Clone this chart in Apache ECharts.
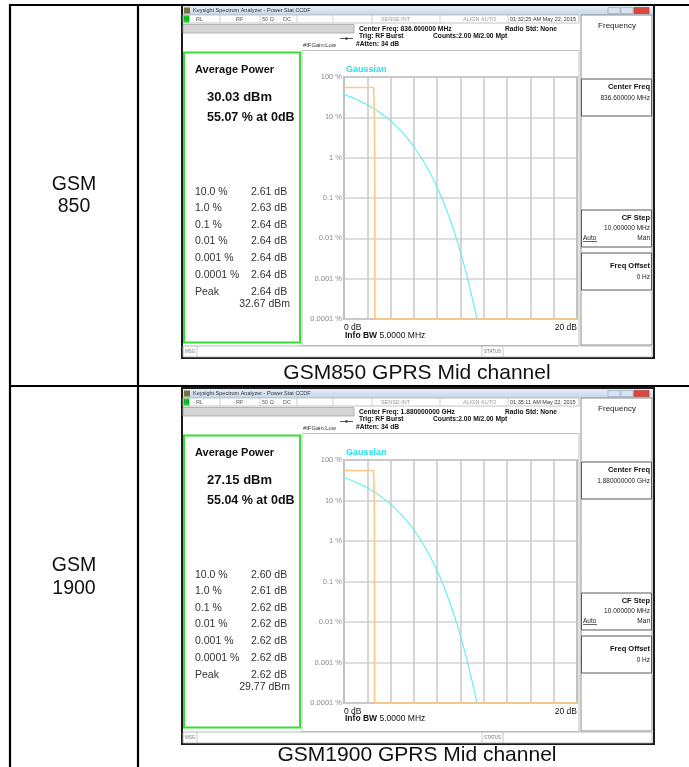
<!DOCTYPE html>
<html>
<head>
<meta charset="utf-8">
<title>GSM GPRS Power Stat CCDF</title>
<script src="https://cdn.jsdelivr.net/npm/echarts@6.0.0/dist/echarts.min.js"></script>
<style>
  html, body { margin: 0; padding: 0; background: #fff; }
  #chart { width: 689px; height: 767px; }
</style>
</head>
<body>
<div id="chart"></div>
<script>
// ---- CCDF probability levels from the measurement table ----
const probLevelText = ['10.0 %', '1.0 %', '0.1 %', '0.01 %', '0.001 %', '0.0001 %'];
const probLevels = [10, 1, 0.1, 0.01, 0.001, 0.0001];

// ---- GSM850 mid channel ----
const gsm850AvgPower = '30.03 dBm';
const gsm850At0dB = 55.07;
const gsm850KneeDb = 2.55;
const gsm850LevelDb = [2.61, 2.63, 2.64, 2.64, 2.64, 2.64];
const gsm850PeakDb = 2.64;
const gsm850PeakDbm = '32.67 dBm';

// ---- GSM1900 mid channel ----
const gsm1900AvgPower = '27.15 dBm';
const gsm1900At0dB = 55.04;
const gsm1900KneeDb = 2.54;
const gsm1900LevelDb = [2.60, 2.61, 2.62, 2.62, 2.62, 2.62];
const gsm1900PeakDb = 2.62;
const gsm1900PeakDbm = '29.77 dBm';

// ---- Gaussian reference trace (dB above average, % probability) ----
const gaussDb  = [0, 0.5, 1, 1.5, 2, 2.5, 3, 3.5, 4, 4.5, 5, 5.5, 6, 6.5, 7, 7.5, 8, 8.5, 9, 9.5, 10, 10.5, 11, 11.4];
const gaussPct = [36.8, 32.6, 28.4, 24.4, 20.5, 16.9, 13.6, 10.7, 8.1, 5.97, 4.23, 2.88, 1.87, 1.15, 0.665, 0.361, 0.182, 0.0843, 0.0355, 0.0135, 0.00454, 0.00134, 0.00034, 0.000101];

// ---- axis tick labels ----
const xMinDb = 0, xMaxDb = 20, xStepDb = 2;
const xTickText = { 0: '0 dB', 20: '20 dB' };
const yTickExp  = [-4, -3, -2, -1, 0, 1, 2];
const yTickText = ['0.0001 %', '0.001 %', '0.01 %', '0.1 %', '1 %', '10 %', '100 %'];

// ---- text of the analyzer window ----
const winTitle = 'Keysight Spectrum Analyzer - Power Stat CCDF';
const centerFreq = ['836.600000 MHz', '1.880000000 GHz'];
const timeStamp = ['01:32:25 AM May 22, 2015', '01:35:11 AM May 22, 2015'];
const bandName = [['GSM', '850'], ['GSM', '1900']];
const captions = ['GSM850 GPRS Mid channel', 'GSM1900 GPRS Mid channel'];

const FONT = '"Liberation Sans", Arial, sans-serif';
const fnt = (size, bold) => (bold ? 'bold ' : '') + size + 'px ' + FONT;

// measured trace: flat at the 0 dB probability, then the table levels, then the floor
function measuredTrace(at0, knee, levelDb) {
  const pts = [[xMinDb, at0], [knee, at0]];
  levelDb.forEach((d, i) => pts.push([d, probLevels[i]]));
  pts.push([xMaxDb, probLevels[probLevels.length - 1]]);
  return pts;
}
const gaussTrace = gaussDb.map((d, i) => [d, gaussPct[i]]);

// ---- drawing helpers for the window chrome ----
const T = (x, y, text, o = {}) => ({
  type: 'text', x, y, silent: true, z: 20,
  style: {
    text, font: o.font || fnt(6), fill: o.fill || '#222',
    align: o.align || 'left', verticalAlign: 'middle',
    textAlign: o.align || 'left', textVerticalAlign: 'middle',
    rich: o.rich
  }
});
const R = (x, y, w, h, o = {}) => ({
  type: 'rect', silent: true, z: o.z || 5,
  shape: { x, y, width: w, height: h },
  style: { fill: o.fill || 'none', stroke: o.stroke || null, lineWidth: o.lw || 1 }
});
const L = (x1, y1, x2, y2, o = {}) => ({
  type: 'line', silent: true, z: o.z || 6,
  shape: { x1, y1, x2, y2 },
  style: { stroke: o.stroke || '#000', lineWidth: o.lw || 1 }
});

function windowChrome(k, dy, ext, avg, at0, levelDb, peakDb, peakDbm) {
  const g = [];
  const y = v => v + dy;
  // frame and title bar
  g.push(R(182, y(5), 472, 353 + ext, { stroke: '#1b1b1b', lw: 2, z: 1 }));
  g.push(R(183, y(6), 470, 9, { fill: new echarts.graphic.LinearGradient(0, 0, 0, 1, [
    { offset: 0, color: '#e6eef8' }, { offset: 1, color: '#c4d4e7' }]) }));
  g.push(R(184, y(7.5), 6, 6, { fill: '#77713f' }));
  g.push(T(193, y(10.5), winTitle, { font: fnt(5.5), fill: '#333' }));
  g.push(R(608, y(7.5), 12, 6, { fill: '#d9e3f0', stroke: '#8fa4bf', lw: 0.6 }));
  g.push(R(621, y(7.5), 12, 6, { fill: '#d9e3f0', stroke: '#8fa4bf', lw: 0.6 }));
  g.push(R(634, y(7.5), 15, 6, { fill: '#d8493b', stroke: '#a33', lw: 0.6 }));
  // status row
  g.push(R(183, y(15), 396, 8, { fill: '#fff', stroke: '#b4b4b4', lw: 0.8 }));
  g.push(R(183.5, y(15.5), 6, 7, { fill: '#18d018' }));
  g.push(T(184, y(19), 'LXI', { font: fnt(3.5), fill: '#063' }));
  [220, 260, 297, 333, 372, 440, 508].forEach(x => g.push(L(x, y(15), x, y(23), { stroke: '#c4c4c4', lw: 0.8 })));
  g.push(T(196, y(19), 'RL', { font: fnt(5.5), fill: '#555' }));
  g.push(T(236, y(19), 'RF', { font: fnt(5.5), fill: '#555' }));
  g.push(T(262, y(19), '50 Ω', { font: fnt(5.5), fill: '#555' }));
  g.push(T(283, y(19), 'DC', { font: fnt(5.5), fill: '#555' }));
  g.push(T(381, y(19), 'SENSE:INT', { font: fnt(5.5), fill: '#999' }));
  g.push(T(463, y(19), 'ALIGN AUTO', { font: fnt(5.5), fill: '#999' }));
  g.push(T(510, y(19), timeStamp[k], { font: fnt(5.5), fill: '#333' }));
  // measurement header
  g.push(R(183, y(24.5), 171, 8.5, { fill: '#d5d5d5', stroke: '#a4a4a4', lw: 0.8 }));
  g.push(L(340, y(38.5), 353, y(38.5), { stroke: '#333', lw: 0.8 }));
  g.push({ type: 'circle', silent: true, z: 6, shape: { cx: 346.5, cy: y(38.5), r: 1.3 }, style: { fill: '#333' } });
  g.push(T(303, y(45.5), '#IFGain:Low', { font: fnt(5.8), fill: '#333' }));
  g.push(T(359, y(29), 'Center Freq: ' + centerFreq[k], { font: fnt(6.7, true), fill: '#111' }));
  g.push(T(359, y(36.5), 'Trig: RF Burst', { font: fnt(6.7, true), fill: '#111' }));
  g.push(T(356, y(44), '#Atten: 34 dB', { font: fnt(6.7, true), fill: '#111' }));
  g.push(T(433, y(36.5), 'Counts:2.00 M/2.00 Mpt', { font: fnt(6.7, true), fill: '#111' }));
  g.push(T(505, y(29), 'Radio Std: None', { font: fnt(6.7, true), fill: '#111' }));
  // trace panel outline
  g.push(R(302, y(50.5), 277, 295 + ext, { stroke: '#c2c2c2', lw: 1 }));
  // soft key panel
  g.push(R(581, y(15), 71, 330 + ext, { stroke: '#8c8c8c', lw: 1 }));
  g.push(T(617, y(26), 'Frequency', { font: fnt(8), fill: '#222', align: 'center' }));
  g.push(R(581.5, y(79), 70, 37, { stroke: '#5a5a5a', lw: 1 }));
  g.push(T(650, y(87), 'Center Freq', { font: fnt(7.5, true), fill: '#111', align: 'right' }));
  g.push(T(650, y(98), centerFreq[k], { font: fnt(6.5), fill: '#222', align: 'right' }));
  g.push(R(581.5, y(210), 70, 37, { stroke: '#5a5a5a', lw: 1 }));
  g.push(T(650, y(218), 'CF Step', { font: fnt(7.5, true), fill: '#111', align: 'right' }));
  g.push(T(650, y(228), '10.000000 MHz', { font: fnt(6.5), fill: '#222', align: 'right' }));
  g.push(T(583, y(238), 'Auto', { font: fnt(6.5), fill: '#222' }));
  g.push(L(583, y(241.5), 597, y(241.5), { stroke: '#222', lw: 0.7 }));
  g.push(T(650, y(238), 'Man', { font: fnt(6.5), fill: '#222', align: 'right' }));
  g.push(R(581.5, y(253), 70, 37, { stroke: '#5a5a5a', lw: 1 }));
  g.push(T(650, y(266), 'Freq Offset', { font: fnt(7.5, true), fill: '#111', align: 'right' }));
  g.push(T(650, y(277), '0 Hz', { font: fnt(6.5), fill: '#222', align: 'right' }));
  // result box
  g.push(R(184, y(52.5), 116, 290 + (ext ? 2 : 0), { stroke: '#33e033', lw: 2 }));
  g.push(T(195, y(70), 'Average Power', { font: fnt(11, true), fill: '#111' }));
  g.push(T(207, y(97), avg, { font: fnt(13, true), fill: '#111' }));
  g.push(T(207, y(118), at0.toFixed(2) + ' % at 0dB', { font: fnt(12.5, true), fill: '#111' }));
  const rowY = [192, 208.5, 225, 241.5, 258, 275];
  probLevelText.forEach((t, i) => {
    g.push(T(195, y(rowY[i]), t, { font: fnt(10.5), fill: '#333' }));
    g.push(T(251, y(rowY[i]), levelDb[i].toFixed(2) + ' dB', { font: fnt(10.5), fill: '#333' }));
  });
  g.push(T(195, y(292), 'Peak', { font: fnt(10.5), fill: '#333' }));
  g.push(T(251, y(292), peakDb.toFixed(2) + ' dB', { font: fnt(10.5), fill: '#333' }));
  g.push(T(290, y(304), peakDbm, { font: fnt(10.5), fill: '#333', align: 'right' }));
  // trace annotations
  g.push(T(346, y(70), 'Gaussian', { font: fnt(9, true), fill: '#22e3ef' }));
  g.push(T(345, y(336), '{b|Info BW} 5.0000 MHz', {
    font: fnt(8.5), fill: '#111',
    rich: { b: { fontWeight: 'bold', fontSize: 8.5, fontFamily: FONT, fill: '#111' } }
  }));
  // message bar
  const my = y(346) + ext;
  g.push(R(183, my, 469, 11, { fill: '#fff', stroke: '#a8a8a8', lw: 0.8 }));
  g.push(T(185, my + 5.5, 'MSG', { font: fnt(4.5), fill: '#777' }));
  g.push(L(197, my, 197, my + 11, { stroke: '#bbb', lw: 0.8 }));
  g.push(L(482, my, 482, my + 11, { stroke: '#bbb', lw: 0.8 }));
  g.push(L(503, my, 503, my + 11, { stroke: '#bbb', lw: 0.8 }));
  g.push(T(484, my + 5.5, 'STATUS', { font: fnt(4.5), fill: '#777' }));
  return g;
}

const graphics = [];
// table grid lines
graphics.push(L(10, 4, 10, 767, { lw: 2.2, z: 30 }));
graphics.push(L(138, 4, 138, 767, { lw: 2.2, z: 30 }));
graphics.push(L(9, 5, 689, 5, { lw: 2.2, z: 30 }));
graphics.push(L(9, 386, 689, 386, { lw: 2.2, z: 30 }));
// band names and captions
graphics.push(T(74, 185, bandName[0][0], { font: fnt(19.5), fill: '#111', align: 'center' }));
graphics.push(T(74, 207, bandName[0][1], { font: fnt(19.5), fill: '#111', align: 'center' }));
graphics.push(T(74, 566, bandName[1][0], { font: fnt(19.5), fill: '#111', align: 'center' }));
graphics.push(T(74, 589, bandName[1][1], { font: fnt(19.5), fill: '#111', align: 'center' }));
graphics.push(T(417, 373, captions[0], { font: fnt(21), fill: '#111', align: 'center' }));
graphics.push(T(417, 755, captions[1], { font: fnt(21), fill: '#111', align: 'center' }));

graphics.push(...windowChrome(0, 0, 0, gsm850AvgPower, gsm850At0dB, gsm850LevelDb, gsm850PeakDb, gsm850PeakDbm));
graphics.push(...windowChrome(1, 383, 3, gsm1900AvgPower, gsm1900At0dB, gsm1900LevelDb, gsm1900PeakDb, gsm1900PeakDbm));

const grids = [
  { left: 344, top: 77, width: 233, height: 242 },
  { left: 344, top: 460, width: 233, height: 243 }
].map(g => Object.assign({ show: true, borderColor: '#8e8e8e', borderWidth: 1.5, backgroundColor: 'transparent' }, g));

const xAxes = grids.map((_, i) => ({
  gridIndex: i, type: 'value', min: xMinDb, max: xMaxDb, interval: xStepDb,
  axisLine: { show: false }, axisTick: { show: false },
  splitLine: { show: true, lineStyle: { color: '#c9c9c9', width: 1.5 } },
  axisLabel: {
    show: true, margin: 4, fontSize: 8.5, color: '#111', fontFamily: FONT,
    alignMinLabel: 'left', alignMaxLabel: 'right',
    formatter: v => xTickText[Math.round(v)] || ''
  }
}));

const yAxes = grids.map((_, i) => ({
  gridIndex: i, type: 'log', logBase: 10, min: 0.0001, max: 100,
  axisLine: { show: false }, axisTick: { show: false },
  splitLine: { show: true, lineStyle: { color: '#d3d3d3', width: 1.5 } },
  axisLabel: {
    margin: 2, fontSize: 7.5, color: '#8a8a8a', fontFamily: FONT,
    formatter: v => {
      const idx = yTickExp.indexOf(Math.round(Math.log10(v)));
      return idx >= 0 ? yTickText[idx] : '';
    }
  }
}));

const traces = [
  measuredTrace(gsm850At0dB, gsm850KneeDb, gsm850LevelDb),
  measuredTrace(gsm1900At0dB, gsm1900KneeDb, gsm1900LevelDb)
];

const series = [];
traces.forEach((tr, i) => {
  series.push({
    type: 'line', xAxisIndex: i, yAxisIndex: i, data: gaussTrace, smooth: 0.3,
    showSymbol: false, silent: true, lineStyle: { color: '#5eeef2', width: 1.1 }, z: 3
  });
  series.push({
    type: 'line', xAxisIndex: i, yAxisIndex: i, data: tr,
    showSymbol: false, silent: true, lineStyle: { color: '#ffc983', width: 1.6 }, z: 4
  });
});

const chart = echarts.init(document.getElementById('chart'), null, { renderer: 'canvas' });
chart.setOption({
  animation: false,
  backgroundColor: '#fff',
  grid: grids,
  xAxis: xAxes,
  yAxis: yAxes,
  series,
  graphic: { elements: graphics }
});
</script>
</body>
</html>
